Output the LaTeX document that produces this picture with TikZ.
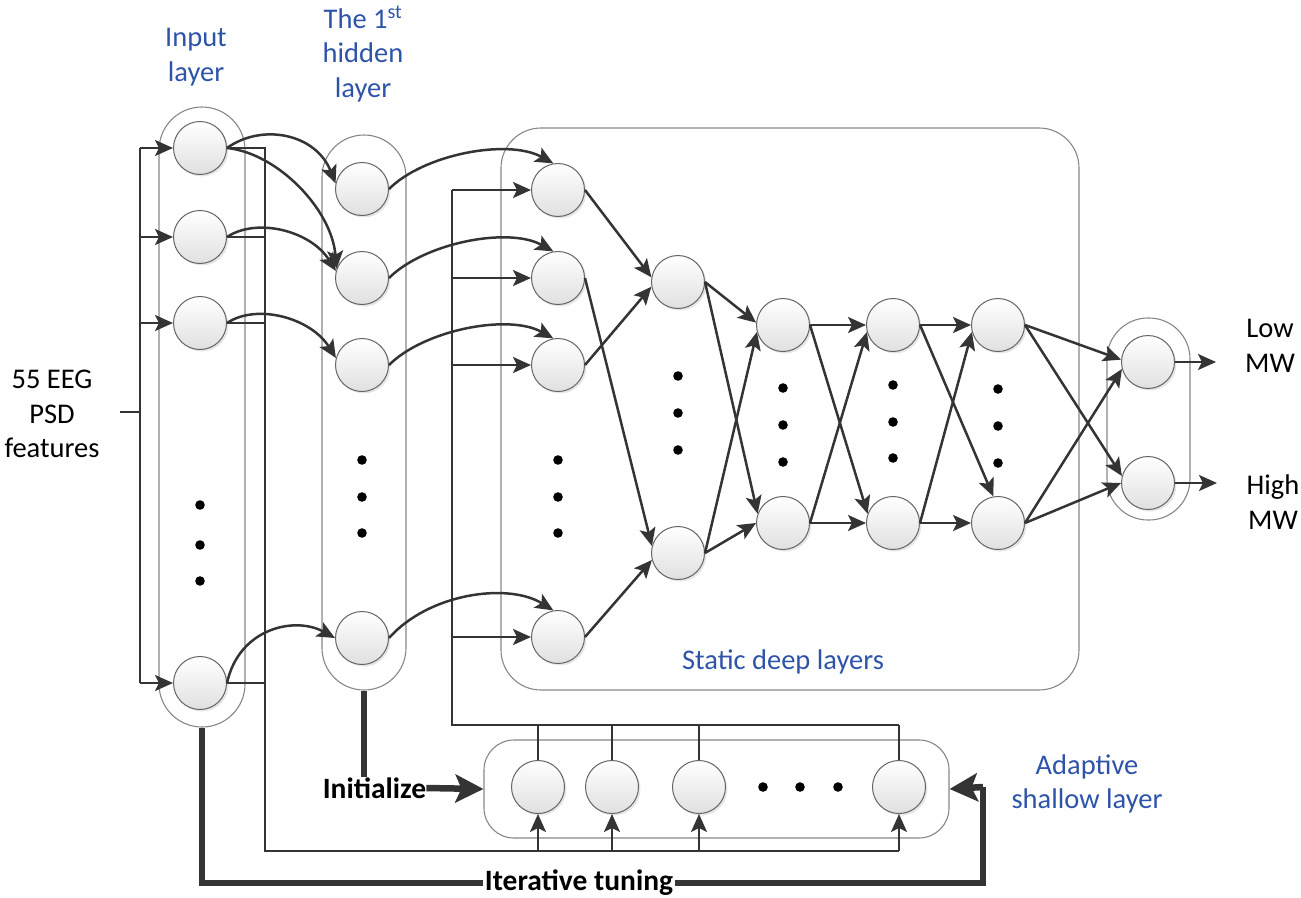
\documentclass[tikz,border=0pt]{standalone}
\usepackage{fontspec}
\setmainfont{Carlito}
\usetikzlibrary{arrows.meta,shadows}
\definecolor{lblue}{RGB}{46,84,170}
\definecolor{ln}{RGB}{52,52,52}
\definecolor{nb}{RGB}{100,100,100}
\definecolor{cb}{RGB}{135,135,135}
\definecolor{nbot}{RGB}{224,224,224}
\begin{document}
\begin{tikzpicture}[x=1pt,y=-1pt,
  neuron/.style={circle,minimum size=53pt,inner sep=0pt,draw=nb,line width=1pt,
    top color=white,bottom color=nbot,
    drop shadow={opacity=0.2,shadow xshift=2pt,shadow yshift=-2pt}},
  cont/.style={draw=cb,line width=1.1pt,inner sep=0pt},
  wire/.style={draw=ln,line width=2.5pt},
  arr/.style={draw=ln,line width=2.5pt,-{Stealth[length=18pt,width=16pt,inset=4pt]}},
  thk/.style={draw=ln,line width=6.5pt},
  thkarr/.style={draw=ln,line width=6.5pt,-{Stealth[length=28pt,width=28pt,inset=6pt]}},
  lbl/.style={font=\fontsize{28.5}{34.5}\selectfont,text=lblue,align=center,inner sep=0pt},
  blk/.style={font=\fontsize{28.5}{34.5}\selectfont,text=black,align=center,inner sep=0pt},
  bold/.style={font=\bfseries\fontsize{29.5}{35}\selectfont,text=black,inner sep=1.5pt,fill=white},
  dot/.style={fill=black}]
\useasboundingbox (0,0) rectangle (1301,897);

% containers
\node[cont,minimum width=86pt,minimum height=620pt,rounded corners=43pt] (inL) at (202,417) {};
\node[cont,minimum width=84pt,minimum height=555pt,rounded corners=42pt] (hidL) at (364,412.5) {};
\node[cont,minimum width=578pt,minimum height=562pt,rounded corners=40pt] (stat) at (790,409) {};
\node[cont,minimum width=83pt,minimum height=202pt,rounded corners=41pt] (outL) at (1148.5,419) {};
\node[cont,minimum width=465pt,minimum height=98pt,rounded corners=30pt] (adaL) at (716.5,789) {};

% neurons
\node[neuron] (i1) at (200,148) {};
\node[neuron] (i2) at (200,237) {};
\node[neuron] (i3) at (200,323) {};
\node[neuron] (i4) at (200,683) {};
\node[neuron] (h1) at (362,189) {};
\node[neuron] (h2) at (362,278) {};
\node[neuron] (h3) at (362,365) {};
\node[neuron] (h4) at (362,638) {};
\node[neuron] (s1) at (558,190) {};
\node[neuron] (s2) at (558,278) {};
\node[neuron] (s3) at (558,365) {};
\node[neuron] (s4) at (558,637) {};
\node[neuron] (a1) at (678,282) {};
\node[neuron] (a2) at (678,553) {};
\node[neuron] (b1) at (783,325) {};
\node[neuron] (b2) at (783,523) {};
\node[neuron] (c1) at (893,325) {};
\node[neuron] (c2) at (893,523) {};
\node[neuron] (d1) at (998,325) {};
\node[neuron] (d2) at (998,523) {};
\node[neuron] (o1) at (1148,362) {};
\node[neuron] (o2) at (1148,483) {};
\node[neuron] (p1) at (538,787) {};
\node[neuron] (p2) at (612,787) {};
\node[neuron] (p3) at (699,787) {};
\node[neuron] (p4) at (899,787) {};

% dots
\foreach \y in {505,545,581} \fill[dot] (200,\y) circle (4.8pt);
\foreach \y in {460,497,533} {\fill[dot] (362,\y) circle (4.8pt); \fill[dot] (558,\y) circle (4.8pt);}
\foreach \y in {376,413,450} \fill[dot] (678,\y) circle (4.8pt);
\foreach \y in {388,425,462} \fill[dot] (783,\y) circle (4.8pt);
\foreach \y in {385,422,458} \fill[dot] (893,\y) circle (4.8pt);
\foreach \y in {389,426,463} \fill[dot] (998,\y) circle (4.8pt);
\foreach \x in {763,800,838} \fill[dot] (\x,787) circle (4.8pt);

% input features bus
\node[blk] (feat) at (52,414) {55 EEG\\PSD\\features};
\coordinate (fe) at (120,412);
\coordinate (lb) at (140,412);
\draw[wire] (fe) -- (lb);
\draw[wire] (lb |- i1) -- (lb |- i4);
\foreach \n in {i1,i2,i3,i4} \draw[arr] (lb |- \n) -- (\n.west);

% right bus from input layer to adaptive layer (bottom)
\coordinate (bot) at (265,851);
\draw[wire] (i1.east) -- (i1 -| bot) -- (bot) -- (bot -| p4);
\foreach \n in {i2,i3,i4} \draw[wire] (\n.east) -- (\n -| bot);
\foreach \n in {p1,p2,p3,p4} \draw[arr] (\n |- bot) -- (\n.south);

% bus to first static layer and adaptive layer (top)
\coordinate (tb) at (452,725);
\draw[wire] (tb |- s1) -- (tb) -- (tb -| p4);
\foreach \n in {s1,s2,s3,s4} \draw[arr] (tb |- \n) -- (\n.west);
\foreach \n in {p1,p2,p3,p4} \draw[wire] (\n |- tb) -- (\n.north);

% input -> hidden curves
\draw[arr] (i1.east) .. controls +(35,-25) and +(-20,-50) .. (h1.168);
\draw[arr] (i1.east) .. controls +(50,5) and +(-5,-60) .. (h2.160);
\draw[arr] (i2.east) .. controls +(30,-20) and +(-25,-40) .. (h2.165);
\draw[arr] (i3.east) .. controls +(30,-20) and +(-25,-40) .. (h3.165);
\draw[arr] (i4.east) .. controls +(12,-55) and +(-40,-22) .. (h4.west);

% hidden -> static curves
\draw[arr] (h1.east) .. controls +(35,-35) and +(-45,-25) .. (s1.100);
\draw[arr] (h2.east) .. controls +(35,-35) and +(-45,-25) .. (s2.100);
\draw[arr] (h3.east) .. controls +(35,-35) and +(-45,-25) .. (s3.100);
\draw[arr] (h4.east) .. controls +(40,-45) and +(-45,-28) .. (s4.100);

% deep connections
\draw[arr] (s1.east) -- (a1.170);
\draw[arr] (s3.east) -- (a1.190);
\draw[arr] (s2.east) -- (a2.165);
\draw[arr] (s4.east) -- (a2.195);
\draw[arr] (a1.east) -- (b1.175);
\draw[arr] (a1.east) -- (b2.160);
\draw[arr] (a2.east) -- (b1.195);
\draw[arr] (a2.east) -- (b2.west);
\draw[arr] (b1.east) -- (c1.west);
\draw[arr] (b1.east) -- (c2.160);
\draw[arr] (b2.east) -- (c1.195);
\draw[arr] (b2.east) -- (c2.west);
\draw[arr] (c1.east) -- (d1.west);
\draw[arr] (c1.east) -- (d2.100);
\draw[arr] (c2.east) -- (d1.195);
\draw[arr] (c2.east) -- (d2.west);
\draw[arr] (d1.east) -- (o1.175);
\draw[arr] (d1.east) -- (o2.165);
\draw[arr] (d2.east) -- (o1.195);
\draw[arr] (d2.east) -- (o2.west);

% outputs
\coordinate (oc1) at (1216,362);
\coordinate (oc2) at (1217,483);
\draw[arr] (o1.east) -- (oc1);
\draw[arr] (o2.east) -- (oc2);
\node[blk] (low) at (1270,346) {Low\\MW};
\node[blk] (high) at (1273,502) {High\\MW};

% layer labels
\node[lbl] (tIn) at (196,57) {Input\\layer};
\node[lbl] (tHid) at (363,54) {The 1\textsuperscript{st}\\hidden\\layer};
\node[lbl,anchor=base] (tStat) at (783,669) {Static deep layers};
\node[lbl] (tAda) at (1087,784) {Adaptive\\shallow layer};

% initialize
\node[bold,fill=none,inner sep=0pt] (ini) at (374.5,788) {Initialize};
\draw[thk] (hidL.south) -- (hidL.south |- ini.north);
\draw[thkarr] (ini.east) -- (adaL.west);

% iterative tuning
\coordinate (itc) at (579,883);
\coordinate (rc) at (983,787);
\draw[thk] (inL.south) -- (inL.south |- itc) -- (rc |- itc) -- (rc);
\draw[thkarr] (rc) -- (adaL.east);
\node[bold] (itn) at (itc) {Iterative tuning};
\end{tikzpicture}
\end{document}
